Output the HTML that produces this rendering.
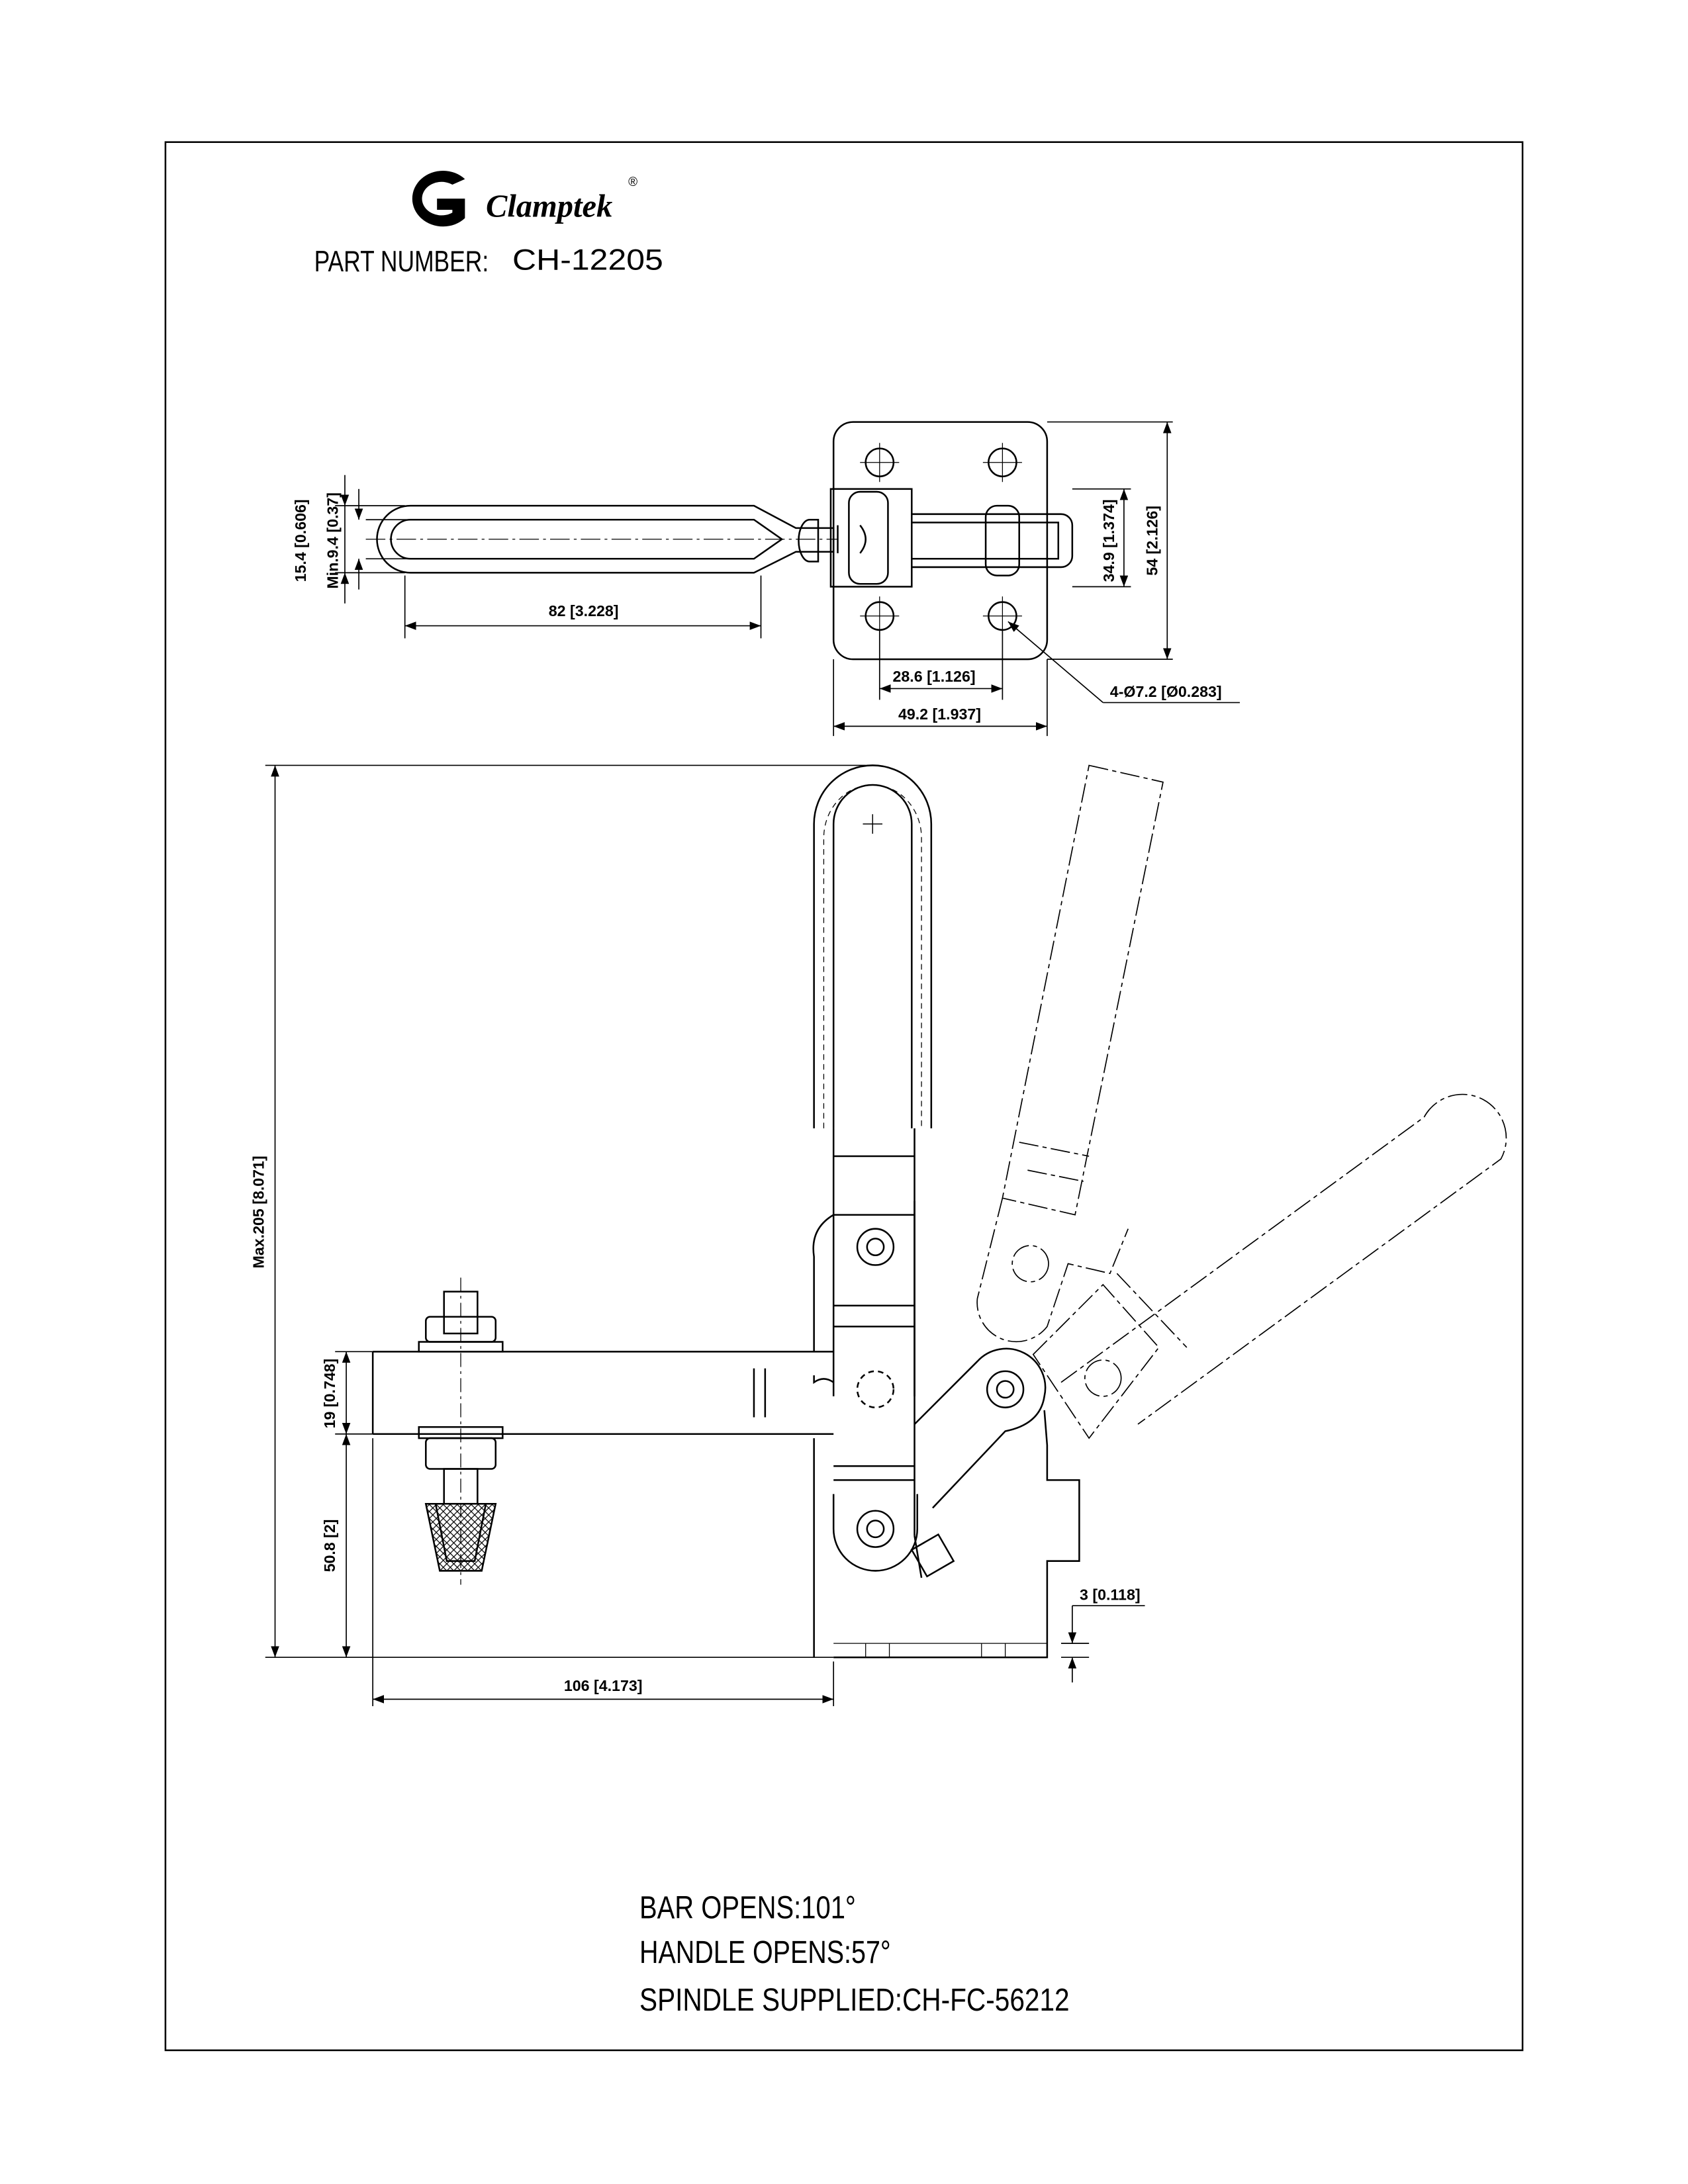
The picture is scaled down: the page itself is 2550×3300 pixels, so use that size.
<!DOCTYPE html>
<html><head><meta charset="utf-8"><style>
html,body{margin:0;padding:0;background:#fff;}
svg{display:block;}
.t{font-family:"Liberation Sans",sans-serif;font-weight:bold;font-size:11px;fill:#000;}
.n{font-family:"Liberation Sans Narrow","Liberation Sans",sans-serif;fill:#000;}
</style></head><body>
<svg width="2550" height="3300" viewBox="0 0 1209 1564" xmlns="http://www.w3.org/2000/svg">
<defs>
<marker id="a" markerWidth="8" markerHeight="6" refX="8" refY="3" orient="auto-start-reverse" markerUnits="userSpaceOnUse"><path d="M0,0 L8,3 L0,6z" fill="#000"/></marker>
<pattern id="x" width="5" height="5" patternUnits="userSpaceOnUse"><path d="M0,0L5,5M5,0L0,5" stroke="#000" stroke-width="0.6"/></pattern>
</defs>
<rect width="1209" height="1564" fill="#fff"/>
<rect x="118.5" y="101.5" width="972" height="1367" fill="none" stroke="#000" stroke-width="1.2"/>

<!-- logo -->
<path d="M333,128 A22,20 0 1 0 333,156 L333,142 L313,142 L313,150 L324,150 L324,152 A14,12 0 1 1 324,132 Z" fill="#000"/>
<text x="348" y="155" font-family="Liberation Serif,serif" font-style="italic" font-weight="bold" font-size="23">Clamptek</text>
<text x="450" y="133" font-family="Liberation Sans,sans-serif" font-size="9">®</text>
<text x="225" y="194" class="n" font-size="21" textLength="125" lengthAdjust="spacingAndGlyphs">PART NUMBER:</text>
<text x="367" y="193" font-family="Liberation Sans,sans-serif" font-size="21" textLength="108" lengthAdjust="spacingAndGlyphs">CH-12205</text>

<g fill="none" stroke="#000" stroke-width="1.2">
<!-- top view handle -->
<path d="M294,362 L540,362 L570,378 L597,378 L597,395 L570,395 L540,410 L294,410 A24,24 0 0 1 294,362Z"/>
<path d="M294,372 L540,372 L560,386 L540,400 L294,400 A14,14 0 0 1 294,372Z"/>
<path d="M580,372 L586,372 L586,402 L580,402 A8,15 0 0 1 580,372Z"/>
<line x1="262" y1="386" x2="600" y2="386" stroke-width="0.6" stroke-dasharray="14,3,2,3"/>
<!-- base plate -->
<rect x="597" y="302" width="153" height="170" rx="14"/>
<circle cx="630" cy="331" r="10"/><circle cx="718" cy="331" r="10"/>
<circle cx="630" cy="441" r="10"/><circle cx="718" cy="441" r="10"/>
<g stroke-width="0.6"><path d="M616,331h28M630,317v28M704,331h28M718,317v28M616,441h28M630,427v28M704,441h28M718,427v28"/></g>
<rect x="595" y="350" width="58" height="70"/>
<path d="M653,368 L760,368 A8,8 0 0 1 768,376 L768,398 A8,8 0 0 1 760,406 L653,406"/>
<path d="M653,374 L758,374 L758,400 L653,400"/>
<rect x="608" y="352" width="28" height="66" rx="8"/>
<rect x="706" y="362" width="24" height="50" rx="8"/>
<path d="M600,376 v20 M616,376 q8,10 0,20"/>
<!-- top dims -->
<g stroke-width="0.8">
<path d="M240,362h50M240,410h50M262,372h30M262,400h30"/>
<line x1="247" y1="340" x2="247" y2="362" marker-end="url(#a)"/><line x1="247" y1="432" x2="247" y2="410" marker-end="url(#a)"/>
<line x1="247" y1="362" x2="247" y2="410"/>
<line x1="257" y1="350" x2="257" y2="372" marker-end="url(#a)"/><line x1="257" y1="422" x2="257" y2="400" marker-end="url(#a)"/>
<path d="M290,412v45M545,412v45M597,472v55M750,472v55M630,451v50M718,451v50"/>
<line x1="290" y1="448" x2="545" y2="448" marker-start="url(#a)" marker-end="url(#a)"/>
<line x1="630" y1="493" x2="718" y2="493" marker-start="url(#a)" marker-end="url(#a)"/>
<line x1="597" y1="520" x2="750" y2="520" marker-start="url(#a)" marker-end="url(#a)"/>
<path d="M750,302h90M750,472h90M768,350h42M768,420h42"/>
<line x1="836" y1="302" x2="836" y2="472" marker-start="url(#a)" marker-end="url(#a)"/>
<line x1="805" y1="350" x2="805" y2="420" marker-start="url(#a)" marker-end="url(#a)"/>
<line x1="790" y1="503" x2="722" y2="445" marker-end="url(#a)"/><line x1="790" y1="503" x2="888" y2="503"/>
</g>
</g>
<text class="t" x="418" y="441" text-anchor="middle">82 [3.228]</text>
<text class="t" x="669" y="488" text-anchor="middle">28.6 [1.126]</text>
<text class="t" x="673" y="515" text-anchor="middle">49.2 [1.937]</text>
<text class="t" x="795" y="499">4-Ø7.2 [Ø0.283]</text>
<text class="t" transform="translate(219,387) rotate(-90)" text-anchor="middle">15.4 [0.606]</text>
<text class="t" transform="translate(242,387) rotate(-90)" text-anchor="middle">Min.9.4 [0.37]</text>
<text class="t" transform="translate(798,387) rotate(-90)" text-anchor="middle">34.9 [1.374]</text>
<text class="t" transform="translate(829,387) rotate(-90)" text-anchor="middle">54 [2.126]</text>

<!-- side view -->
<g fill="none" stroke="#000" stroke-width="1.2">
<!-- grip -->
<path d="M583,808 L583,590 A42,42 0 0 1 667,590 L667,808"/>
<path d="M597,808 L597,590 A28,28 0 0 1 653,590 L653,808" />
<path d="M590,808 L590,600 A35,38 0 0 1 660,600 L660,808" stroke-width="0.6" stroke-dasharray="4,3"/>
<path d="M618,590h14M625,583v14" stroke-width="0.7"/>
<!-- handle lower -->
<path d="M597,808 L597,1000 M655,808 L655,1000"/>
<path d="M597,828h58M597,935h58M597,950h58M597,1050h58M597,1060h58"/>
<!-- vertical arm -->
<path d="M597,870 Q580,880 583,900 L583,968 M583,1030 L583,1187 M583,985 L583,990 Q590,985 597,990"/>
<path d="M597,870 L655,870 M655,860 L655,1100"/>
<circle cx="627" cy="893" r="13"/><circle cx="627" cy="893" r="6"/>
<circle cx="627" cy="1095" r="13"/><circle cx="627" cy="1095" r="6"/>
<path d="M597,1070 L597,1095 A30,30 0 0 0 657,1095 L657,1070"/>
<circle cx="627" cy="995" r="13" stroke-dasharray="4,3"/>
<!-- link -->
<circle cx="720" cy="995" r="13"/><circle cx="720" cy="995" r="6"/>
<path d="M655,1020 L700,975 A28,28 0 0 1 748,1000 Q745,1020 720,1025 L668,1080"/>
<rect x="657" y="1103" width="22" height="22" transform="rotate(-30 668 1114)"/>
<!-- base body -->
<path d="M597,1187 L750,1187 L750,1118 L773,1118 L773,1060 L750,1060 L750,1035 L748,1010 M655,1100 L660,1130"/>
<path d="M597,1177 L750,1177" stroke-width="0.6"/>
<path d="M620,1177v10M637,1177v10M703,1177v10M720,1177v10" stroke-width="0.6"/>
<!-- bar -->
<path d="M267,968 L597,968 M267,1027 L597,1027 M267,968 L267,1027"/>
<path d="M540,980v35M548,980v35"/>
<line x1="330" y1="915" x2="330" y2="1135" stroke-width="0.6" stroke-dasharray="10,3,2,3"/>
<!-- spindle -->
<rect x="318" y="925" width="24" height="30"/>
<rect x="305" y="943" width="50" height="18" rx="3"/>
<rect x="300" y="961" width="60" height="7"/>
<rect x="300" y="1022" width="60" height="8"/>
<rect x="305" y="1030" width="50" height="22" rx="3"/>
<rect x="318" y="1052" width="24" height="25"/>
<path d="M305,1077 L355,1077 L345,1125 L315,1125 Z" fill="url(#x)"/>
<path d="M312,1077 L348,1077 L340,1118 L320,1118 Z"/>
<!-- phantom positions -->
<g stroke-width="0.8" stroke-dasharray="14,3,3,3">
<path d="M780,548 L833,560 L770,870 L718,858 Z"/>
<path d="M730,818 L780,828 M736,838 L776,846"/>
<path d="M718,858 L700,930 A28,28 0 0 0 750,950 L765,905 L795,912 L808,880"/>
<circle cx="738" cy="905" r="13"/>
<path d="M760,990 L1020,800 A30,30 0 0 1 1075,830 L815,1020"/>
<path d="M740,970 L790,920 L830,965 L780,1030 Z"/>
<circle cx="790" cy="987" r="13"/>
<path d="M800,912 L850,965"/>
</g>
<!-- dims -->
<g stroke-width="0.8">
<path d="M190,548H620M190,1187H597M240,968H267M240,1027H267M267,1030V1222M597,1190V1222M760,1177H780M760,1187H780"/>
<line x1="197" y1="548" x2="197" y2="1187" marker-start="url(#a)" marker-end="url(#a)"/>
<line x1="248" y1="968" x2="248" y2="1027" marker-start="url(#a)" marker-end="url(#a)"/>
<line x1="248" y1="1027" x2="248" y2="1187" marker-start="url(#a)" marker-end="url(#a)"/>
<line x1="267" y1="1217" x2="597" y2="1217" marker-start="url(#a)" marker-end="url(#a)"/>
<line x1="768" y1="1150" x2="768" y2="1177" marker-end="url(#a)"/>
<line x1="768" y1="1205" x2="768" y2="1187" marker-end="url(#a)"/>
<line x1="768" y1="1150" x2="820" y2="1150"/>
</g>
</g>
<text class="t" transform="translate(189,868) rotate(-90)" text-anchor="middle">Max.205 [8.071]</text>
<text class="t" transform="translate(240,998) rotate(-90)" text-anchor="middle">19 [0.748]</text>
<text class="t" transform="translate(240,1107) rotate(-90)" text-anchor="middle">50.8 [2]</text>
<text class="t" x="432" y="1211" text-anchor="middle">106 [4.173]</text>
<text class="t" x="795" y="1146" text-anchor="middle">3 [0.118]</text>

<text x="458" y="1374" class="n" font-size="23" textLength="155" lengthAdjust="spacingAndGlyphs">BAR OPENS:101°</text>
<text x="458" y="1406" class="n" font-size="23" textLength="180" lengthAdjust="spacingAndGlyphs">HANDLE OPENS:57°</text>
<text x="458" y="1440" class="n" font-size="23" textLength="308" lengthAdjust="spacingAndGlyphs">SPINDLE SUPPLIED:CH-FC-56212</text>
</svg>
</body></html>
